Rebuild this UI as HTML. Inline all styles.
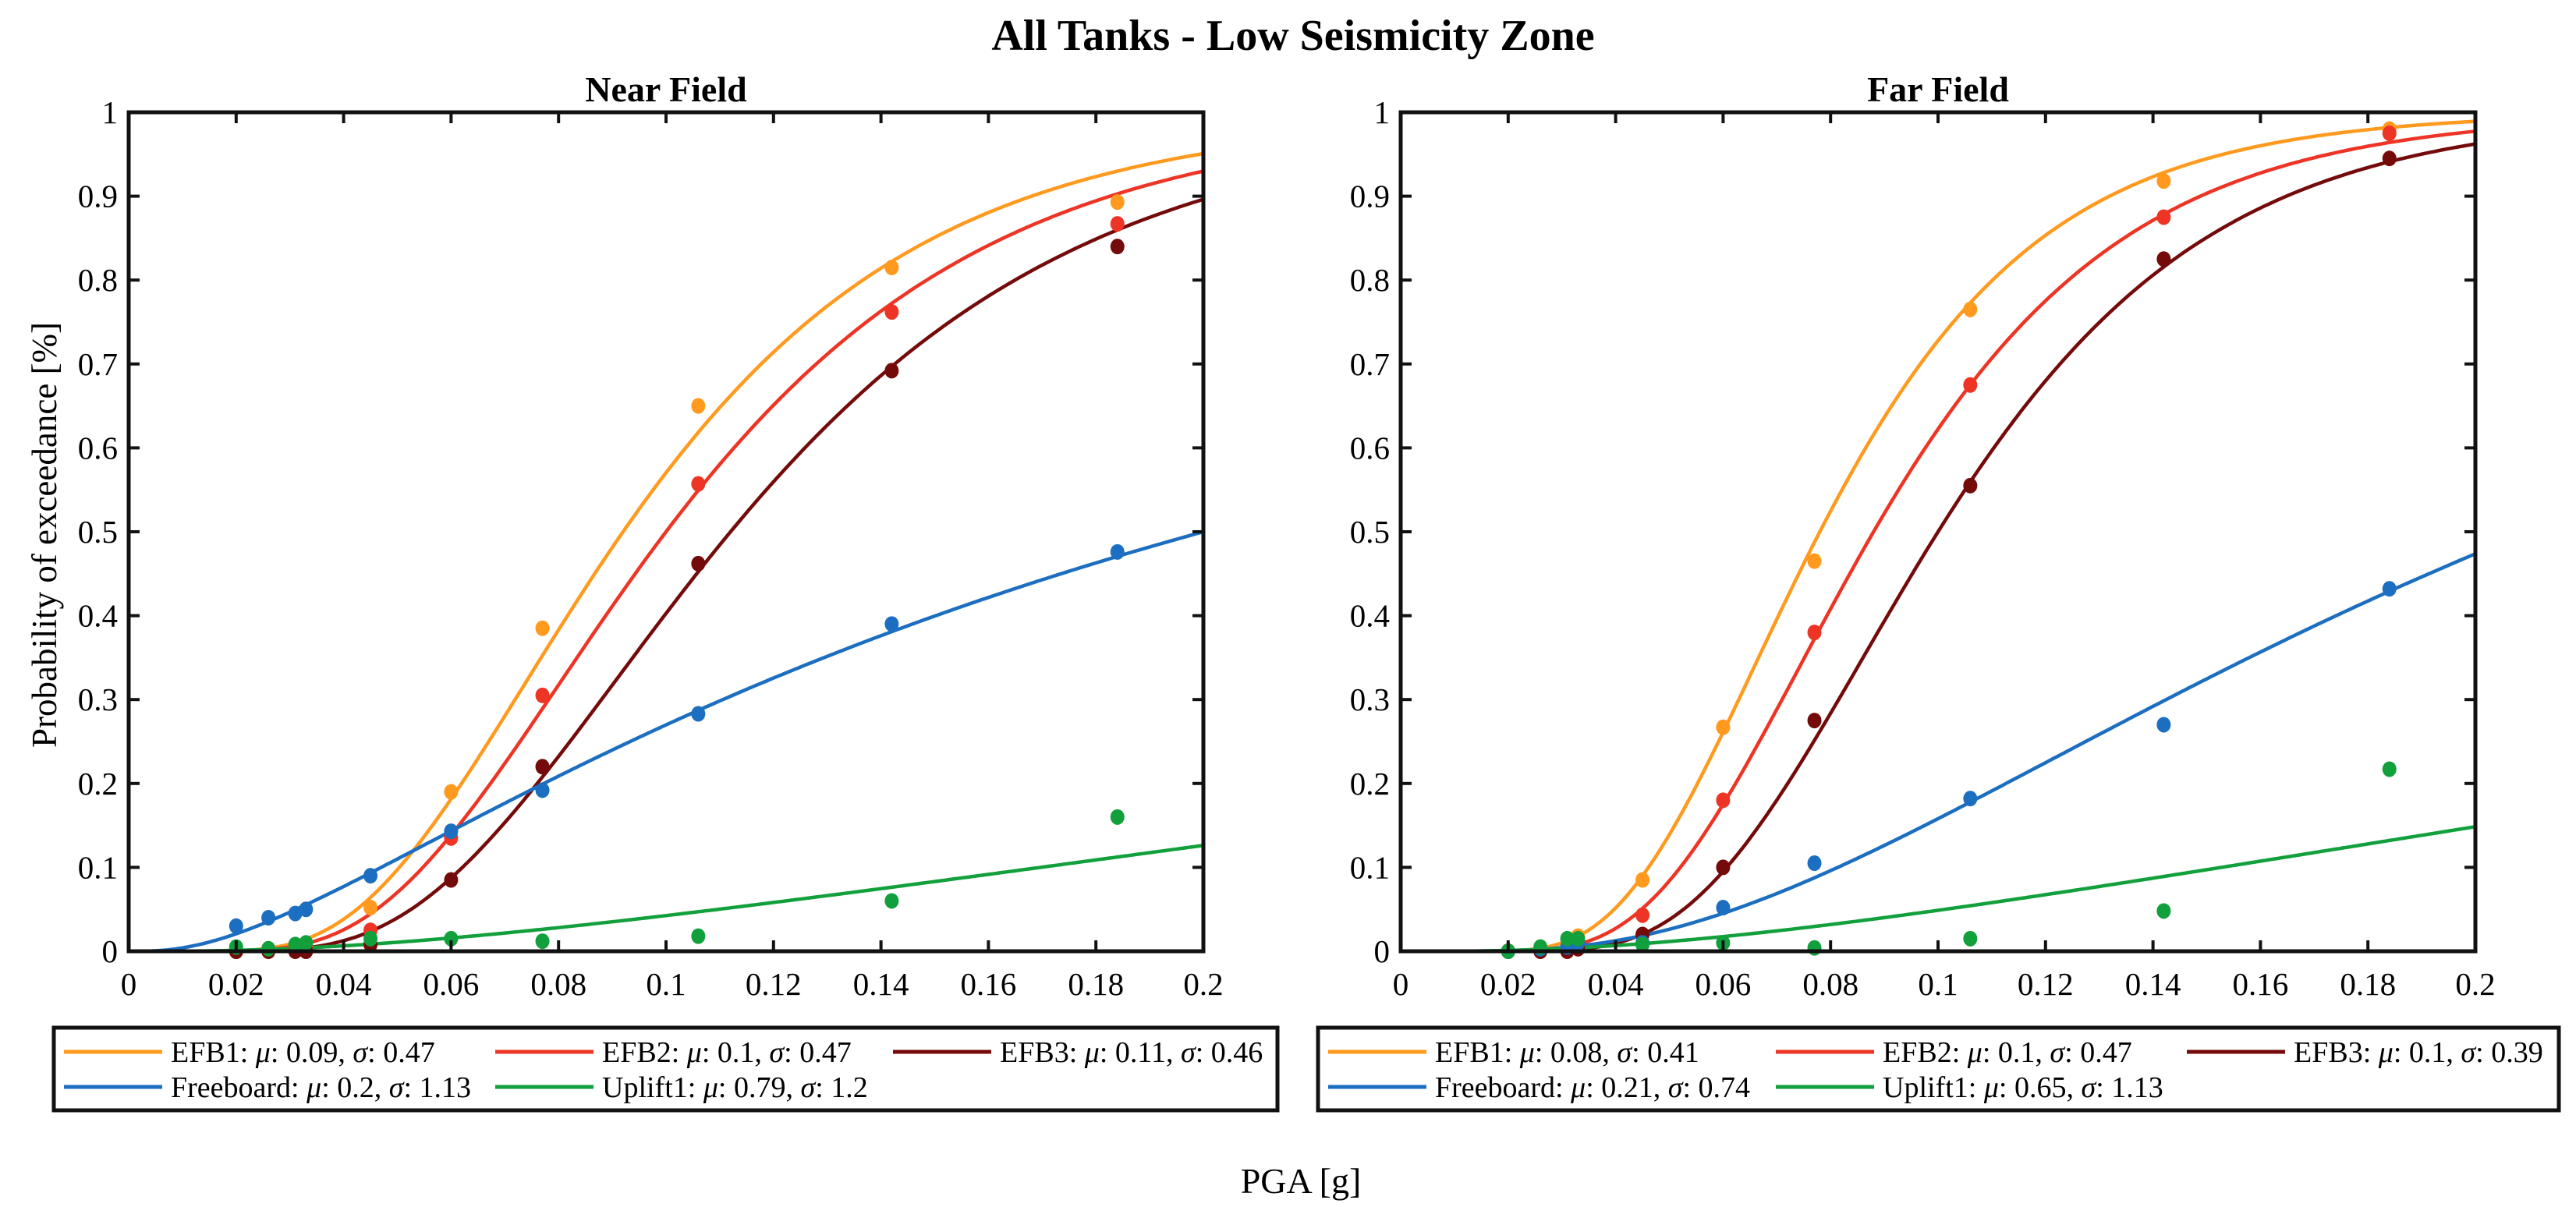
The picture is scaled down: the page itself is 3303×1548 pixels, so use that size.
<!DOCTYPE html>
<html><head><meta charset="utf-8"><style>
html,body{margin:0;padding:0;background:#fff;}
svg{display:block;font-family:"Liberation Serif",serif;}
</style></head><body>
<svg id="fig" width="3303" height="1548" viewBox="0 0 3303 1548" xmlns="http://www.w3.org/2000/svg">
<rect width="3303" height="1548" fill="#fff"/>
<text x="1658" y="64" text-anchor="middle" font-size="56" font-weight="bold">All Tanks - Low Seismicity Zone</text>
<text x="1668" y="1530" text-anchor="middle" font-size="46">PGA [g]</text>
<text transform="translate(72,686) rotate(-90)" text-anchor="middle" font-size="45">Probability of exceedance [%]</text>
</svg>
<script>
const seriesNames = ["EFB1","EFB2","EFB3","Freeboard","Uplift1"];
const colors = ["#FF9A1E","#EE3424","#740A0A","#1C6EC0","#12A03C"];
const pgaX = [0.02,0.026,0.031,0.033,0.045,0.06,0.077,0.106,0.142,0.184];
const xTicks = [0,0.02,0.04,0.06,0.08,0.1,0.12,0.14,0.16,0.18,0.2];
const yTicks = [0,0.1,0.2,0.3,0.4,0.5,0.6,0.7,0.8,0.9,1];
// legend labels (rounded)
const nearMu = [0.09,0.1,0.11,0.2,0.79];
const nearSigma = [0.47,0.47,0.46,1.13,1.2];
const farMu = [0.08,0.1,0.1,0.21,0.65];
const farSigma = [0.41,0.47,0.39,0.74,1.13];
// fitted curve parameters (unrounded)
const nearFitMu = [0.092,0.1,0.112,0.2,0.79];
const nearFitSigma = [0.47,0.47,0.46,1.13,1.2];
const farFitMu = [0.078,0.088,0.1,0.21,0.65];
const farFitSigma = [0.41,0.41,0.39,0.74,1.13];
const nearEFB1 = [0,0.003,0.005,0.008,0.052,0.19,0.385,0.65,0.815,0.893];
const nearEFB2 = [0,0.002,0.003,0.005,0.025,0.135,0.305,0.557,0.762,0.867];
const nearEFB3 = [0,0,0,0,0.008,0.085,0.22,0.462,0.692,0.84];
const nearFreeboard = [0.03,0.04,0.045,0.05,0.09,0.143,0.192,0.283,0.39,0.476];
const nearUplift1 = [0.005,0.003,0.008,0.01,0.015,0.015,0.012,0.018,0.06,0.16];
const farEFB1 = [0,0.003,0.01,0.018,0.085,0.267,0.465,0.765,0.918,0.98];
const farEFB2 = [0,0.002,0.005,0.008,0.043,0.18,0.38,0.675,0.875,0.975];
const farEFB3 = [0,0,0,0.003,0.02,0.1,0.275,0.555,0.825,0.945];
const farFreeboard = [0,0.003,0.005,0.01,0.01,0.052,0.105,0.182,0.27,0.432];
const farUplift1 = [0,0.005,0.015,0.015,0.008,0.01,0.004,0.015,0.048,0.217];

const NS="http://www.w3.org/2000/svg";
const svg=document.getElementById('fig');
function mk(tag,attrs,parent){const e=document.createElementNS(NS,tag);for(const k in attrs)e.setAttribute(k,attrs[k]);(parent||svg).appendChild(e);return e;}
function erf(x){const s=x<0?-1:1;x=Math.abs(x);const t=1/(1+0.3275911*x);const y=1-(((((1.061405429*t-1.453152027)*t)+1.421413741)*t-0.284496736)*t+0.254829592)*t*Math.exp(-x*x);return s*y;}
function lognCdf(x,mu,s){if(x<=0)return 0;return 0.5*(1+erf(Math.log(x/mu)/(s*Math.SQRT2)));}
function fmt(v){return String(+v.toFixed(2));}

function panel(key,left,title,mus,sigmas,fmus,fsig,pts,leg){
  const L=left,R=left+1378,T=144,B=1220;
  const sx=v=>L+(v/0.2)*(R-L), sy=v=>B-v*(B-T);
  const g=mk('g',{});
  
  
  const tt=mk('text',{x:(L+R)/2,y:130,'text-anchor':'middle','font-size':46,'font-weight':'bold'},g);
  tt.textContent=title;
  
  
  for(let s=0;s<5;s++){
    let d='';
    for(let i=0;i<=300;i++){const x=0.2*i/300;d+=(i?'L':'M')+sx(x).toFixed(1)+','+sy(lognCdf(x,fmus[s],fsig[s])).toFixed(1);}
    const p=mk('path',{d:d,fill:'none',stroke:colors[s],'stroke-width':4.5},g);
    
    
  }
  for(let s=0;s<5;s++){
    pts[s].forEach((v,i)=>{
      const c=mk('ellipse',{cx:sx(pgaX[i]),cy:sy(v),rx:9,ry:10,fill:colors[s]},g);
      
      
    });
  }
  const box=mk('rect',{x:L,y:T,width:R-L,height:B-T,fill:'none',stroke:'#111','stroke-width':5},g);
  
  
  xTicks.forEach(v=>{
    const x=sx(v);
    mk('line',{x1:x,y1:B,x2:x,y2:B-14,stroke:'#111','stroke-width':4},g);
    mk('line',{x1:x,y1:T,x2:x,y2:T+14,stroke:'#111','stroke-width':4},g);
    const t=mk('text',{x:x,y:B+56,'text-anchor':'middle','font-size':41},g);
    t.textContent=fmt(v);
    
    
  });
  yTicks.forEach(v=>{
    const y=sy(v);
    mk('line',{x1:L,y1:y,x2:L+14,y2:y,stroke:'#111','stroke-width':4},g);
    mk('line',{x1:R,y1:y,x2:R-14,y2:y,stroke:'#111','stroke-width':4},g);
    const t=mk('text',{x:L-14,y:y+14,'text-anchor':'end','font-size':41},g);
    t.textContent=fmt(v);
    
    
  });
  const lg=mk('g',{},svg);
  
  
  mk('rect',{x:leg.x,y:1318,width:leg.w,height:106,fill:'#fff',stroke:'#111','stroke-width':5},lg);
  for(let s=0;s<5;s++){
    const cx=leg.cols[s%3], ry=s<3?1349:1394;
    mk('line',{x1:cx,y1:ry,x2:cx+126,y2:ry,stroke:colors[s],'stroke-width':5},lg);
    const t=mk('text',{x:cx+137,y:ry+13,'font-size':38},lg);
    t.innerHTML=seriesNames[s]+': <tspan font-style="italic">μ</tspan>: '+fmt(mus[s])+', <tspan font-style="italic">σ</tspan>: '+fmt(sigmas[s]);
    
    
  }
}
panel('near-field',165,'Near Field',nearMu,nearSigma,nearFitMu,nearFitSigma,[nearEFB1,nearEFB2,nearEFB3,nearFreeboard,nearUplift1],{x:69,w:1569,cols:[82,635,1145]});
panel('far-field',1796,'Far Field',farMu,farSigma,farFitMu,farFitSigma,[farEFB1,farEFB2,farEFB3,farFreeboard,farUplift1],{x:1690,w:1591,cols:[1703,2277,2804]});
</script>
</body></html>
